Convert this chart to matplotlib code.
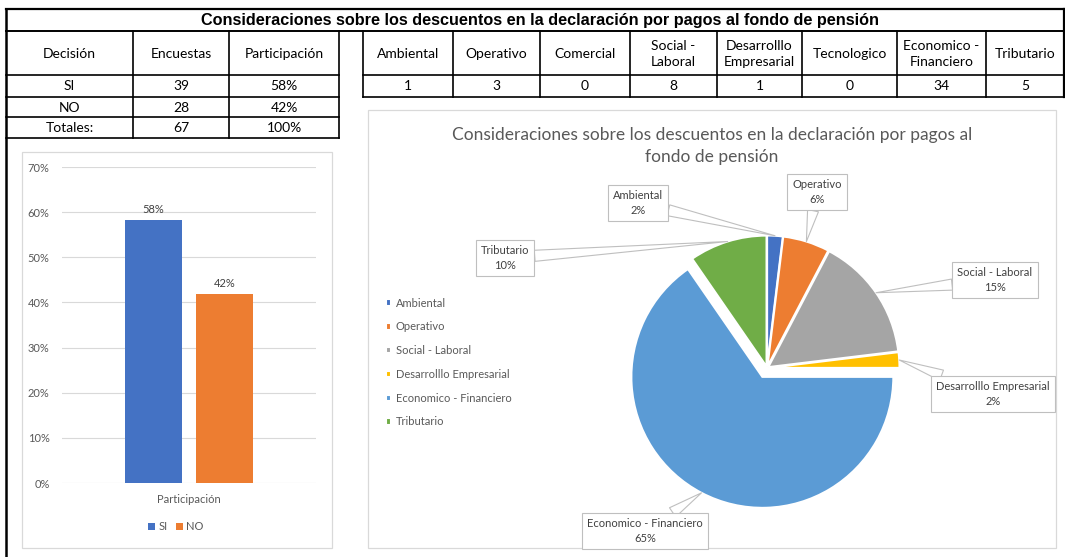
import numpy as np
import matplotlib
matplotlib.use('Agg')
import matplotlib.pyplot as plt
from matplotlib.patches import Rectangle
from matplotlib.ticker import PercentFormatter

plt.rcParams['font.family'] = ['Lato', 'DejaVu Sans']

# --- data ---
main_title = 'Consideraciones sobre los descuentos en la declaración por pagos al fondo de pensión'
decisions = ['SI', 'NO']
surveys = [39, 28]
left_headers = ['Decisión', 'Encuestas', 'Participación']

categories = ['Ambiental', 'Operativo', 'Comercial', 'Social - Laboral',
              'Desarrolllo Empresarial', 'Tecnologico', 'Economico - Financiero', 'Tributario']
cat_headers = ['Ambiental', 'Operativo', 'Comercial', 'Social -\nLaboral',
               'Desarrolllo\nEmpresarial', 'Tecnologico', 'Economico -\nFinanciero', 'Tributario']
cat_counts = [1, 3, 0, 8, 1, 0, 34, 5]

pie_title = 'Consideraciones sobre los descuentos en la declaración por pagos al\nfondo de pensión'
bar_category = 'Participación'

# --- style ---
W, H = 1065, 557
bar_colors = {'SI': '#4472C4', 'NO': '#ED7D31'}
pie_colors = {'Ambiental': '#4472C4', 'Operativo': '#ED7D31', 'Social - Laboral': '#A5A5A5',
              'Desarrolllo Empresarial': '#FFC000', 'Economico - Financiero': '#5B9BD5',
              'Tributario': '#70AD47'}
# label box centres (pixels, y down)
label_pos = {'Ambiental': (638, 203), 'Operativo': (817, 192), 'Social - Laboral': (995, 280),
             'Desarrolllo Empresarial': (993, 394), 'Economico - Financiero': (645, 531),
             'Tributario': (505, 258)}
GRAY_TXT = '#595959'


def fr(x0, y0, x1, y1):
    return [x0 / W, 1 - y1 / H, (x1 - x0) / W, (y1 - y0) / H]


fig = plt.figure(figsize=(W / 100, H / 100), dpi=100)

# ---------------- tables (pixel overlay) ----------------
tax = fig.add_axes([0, 0, 1, 1])
tax.set_xlim(0, W)
tax.set_ylim(H, 0)
tax.axis('off')


def hline(y, x0, x1, lw=1.2):
    tax.plot([x0, x1], [y, y], color='black', lw=lw, solid_capstyle='projecting')


def vline(x, y0, y1, lw=1.2):
    tax.plot([x, x], [y0, y1], color='black', lw=lw, solid_capstyle='projecting')


hline(9, 6, W, 1.6)
hline(31, 6, W, 1.4)
vline(6, 9, H, 1.8)
vline(1064, 9, 97, 1.6)
tax.text(540, 20.5, main_title, ha='center', va='center', fontsize=11.7,
         fontweight='bold', family=['Liberation Sans', 'DejaVu Sans'])

# left table
lcols = [6, 133, 229, 339]
lrows = [31, 75, 97, 117, 138]
for y in lrows[1:]:
    hline(y, lcols[0], lcols[-1])
for x in lcols[1:]:
    vline(x, lrows[0], lrows[-1])

total = sum(surveys)
rows = [left_headers]
for d, s in zip(decisions, surveys):
    rows.append([d, str(s), f'{s / total:.0%}'])
rows.append(['Totales:', str(total), '100%'])
for i, row in enumerate(rows):
    yc = (lrows[i] + lrows[i + 1]) / 2
    for j, txt in enumerate(row):
        xc = (lcols[j] + lcols[j + 1]) / 2
        tax.text(xc, yc + 0.5, txt, ha='center', va='center', fontsize=10)

# right table
rcols = [363, 453, 540, 630, 717, 802, 897, 986, 1064]
rrows = [31, 75, 97]
for y in rrows[1:]:
    hline(y, rcols[0], rcols[-1])
for x in rcols[:-1]:
    vline(x, rrows[0], rrows[-1])
for j, (hdr, cnt) in enumerate(zip(cat_headers, cat_counts)):
    xc = (rcols[j] + rcols[j + 1]) / 2
    tax.text(xc, (rrows[0] + rrows[1]) / 2 + 1, hdr, ha='center', va='center',
             fontsize=10, linespacing=1.3)
    tax.text(xc, (rrows[1] + rrows[2]) / 2 + 0.5, str(cnt), ha='center', va='center', fontsize=10)

# chart panels
tax.add_patch(Rectangle((22, 152), 310, 396, fill=False, ec='#d9d9d9', lw=0.9))
tax.add_patch(Rectangle((368, 110), 688, 438, fill=False, ec='#d9d9d9', lw=0.9))

# ---------------- bar chart ----------------
bax = fig.add_axes(fr(62, 167, 316, 483))
offsets = [-0.28, 0.28]
for d, s, off in zip(decisions, surveys, offsets):
    share = s / total
    bc = bax.bar(off, share, width=0.45, color=bar_colors[d], label=d, zorder=3)
    bax.bar_label(bc, labels=[f'{share:.0%}'], padding=4, fontsize=8, color='#404040')
bax.set_xlim(-1, 1)
bax.set_ylim(0, 0.7)
bax.set_yticks(np.arange(0, 0.71, 0.1))
bax.yaxis.set_major_formatter(PercentFormatter(1.0, decimals=0))
bax.set_xticks([0])
bax.set_xticklabels([bar_category])
bax.tick_params(axis='y', length=0, pad=9, labelsize=8, labelcolor=GRAY_TXT)
bax.tick_params(axis='x', length=0, pad=8, labelsize=8, labelcolor=GRAY_TXT)
bax.yaxis.grid(True, color='#d9d9d9', lw=0.8, zorder=0)
for sp in bax.spines.values():
    sp.set_visible(False)
bax.legend(loc='center', bbox_to_anchor=(176 / W, 1 - 527 / H), bbox_transform=fig.transFigure,
           ncol=2, frameon=False, handlelength=0.6, handleheight=0.6, handletextpad=0.3,
           columnspacing=0.8, fontsize=8, labelcolor=GRAY_TXT)

# ---------------- pie chart ----------------
pax = fig.add_axes(fr(368, 110, 1056, 548))
pax.patch.set_alpha(0)
pie_names = [c for c, v in zip(categories, cat_counts) if v > 0]
pie_vals = [v for v in cat_counts if v > 0]
pie_total = sum(pie_vals)
# explode is in data units (pixels here)
explode = [10 if n == 'Economico - Financiero' else 1.5 for n in pie_names]
wedges, _ = pax.pie(pie_vals, colors=[pie_colors[n] for n in pie_names], startangle=90,
                    counterclock=False, explode=explode, center=(767, H - 368), radius=131,
                    wedgeprops=dict(edgecolor='white', linewidth=1.5))
pax.set_xlim(368, 1056)
pax.set_ylim(H - 548, H - 110)
pax.set_aspect('auto')
pax.axis('off')

for w, name, val in zip(wedges, pie_names, pie_vals):
    th = np.radians((w.theta1 + w.theta2) / 2)
    tip = (w.center[0] + w.r * np.cos(th), w.center[1] + w.r * np.sin(th))
    bx, by = label_pos[name]
    pax.annotate(f'{name}\n{round(100 * val / pie_total)}%', xy=tip, xytext=(bx, H - by),
                 ha='center', va='center', fontsize=8, color='#404040', linespacing=1.5,
                 annotation_clip=False,
                 bbox=dict(boxstyle='square,pad=0.45', fc='white', ec='#bfbfbf', lw=0.8),
                 arrowprops=dict(arrowstyle='wedge,tail_width=0.8,shrink_factor=0.5',
                                 fc='white', ec='#bfbfbf', lw=0.8, shrinkA=0, shrinkB=0,
                                 mutation_scale=10))

pax.legend(wedges, pie_names, loc='upper left', bbox_to_anchor=(380 / W, 1 - 292 / H),
           bbox_transform=fig.transFigure, frameon=False, handlelength=0.5, handleheight=0.5,
           handletextpad=0.4, labelspacing=1.15, fontsize=8, labelcolor=GRAY_TXT, borderpad=0)

fig.text(712 / W, 1 - 146 / H, pie_title, ha='center', va='center', fontsize=12.5,
         color=GRAY_TXT, linespacing=1.5)

fig.savefig('out.png', dpi=100)
